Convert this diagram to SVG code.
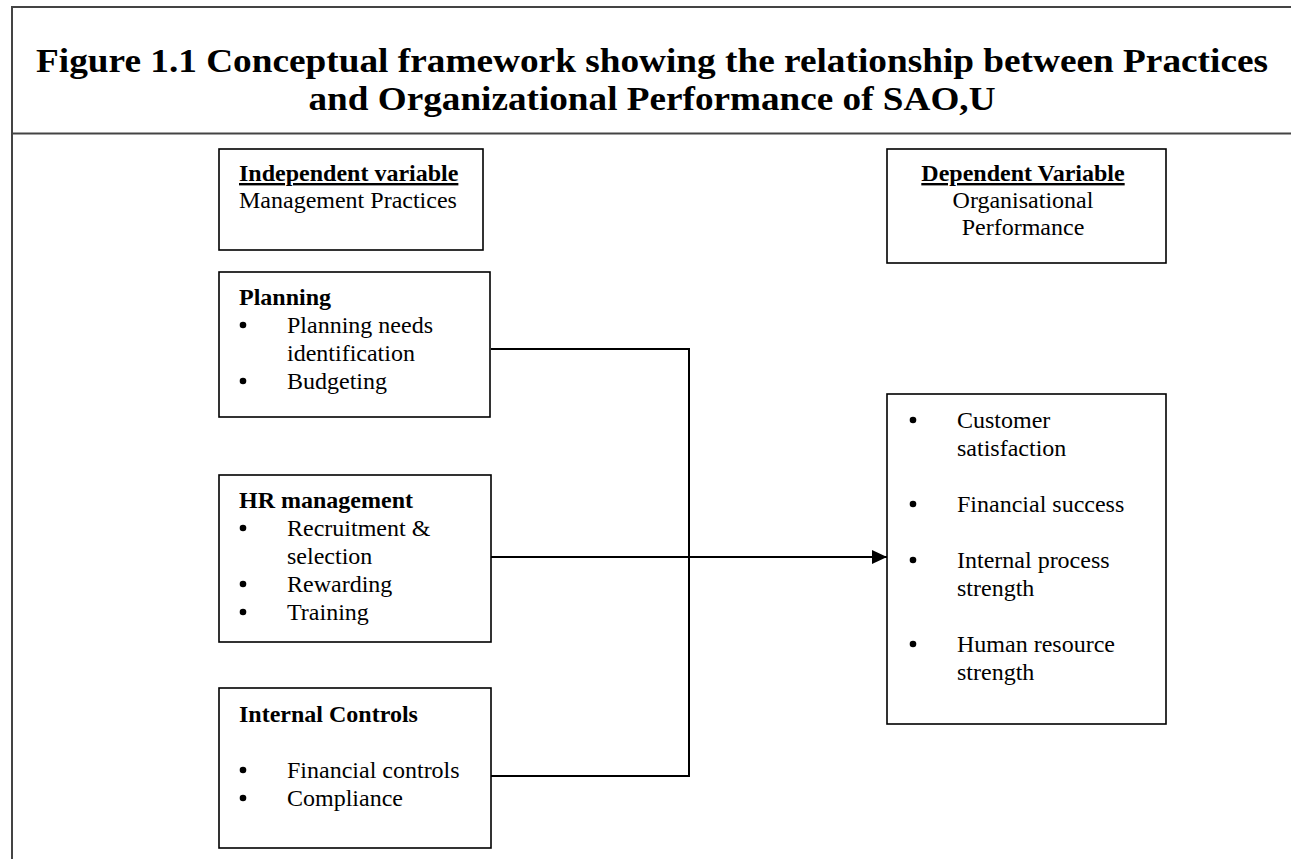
<svg xmlns="http://www.w3.org/2000/svg" width="1291" height="859" viewBox="0 0 1291 859">
<defs>
<style>
.t{font-family:"Liberation Serif","Times New Roman",serif;font-size:24px;fill:#000}
.b{font-weight:bold}
.u{text-decoration:underline}
.title{font-family:"Liberation Serif","Times New Roman",serif;font-size:34px;font-weight:bold;fill:#000}
.box{fill:#fff;stroke:#000;stroke-width:1.6}
.frame{fill:none;stroke:#444;stroke-width:2}
.conn{fill:none;stroke:#000;stroke-width:2}
.dot{fill:#000}
</style>
<marker id="arrow" markerWidth="15" markerHeight="14" refX="15" refY="7" orient="auto" markerUnits="userSpaceOnUse">
<path d="M0,0 L15,7 L0,14 Z" fill="#000"/>
</marker>
</defs>
<rect width="1291" height="859" fill="#fff"/>
<g id="frame">
<path class="frame" d="M1291,7 H12 V859"/>
<path class="frame" d="M12,133.5 H1291"/>
</g>
<g id="title">
<text class="title" x="652" y="72" text-anchor="middle" textLength="1232" lengthAdjust="spacingAndGlyphs">Figure 1.1 Conceptual framework showing the relationship between Practices</text>
<text class="title" x="652" y="110" text-anchor="middle" textLength="687" lengthAdjust="spacingAndGlyphs">and Organizational Performance of SAO,U</text>
</g>
<g id="connectors">
<path class="conn" d="M491,349 H689 V776 H491"/>
<path class="conn" d="M491,557 H887" marker-end="url(#arrow)"/>
</g>
<g id="independent">
<rect class="box" x="219" y="149" width="264" height="101"/>
<text class="t b u" x="239" y="181">Independent variable</text>
<text class="t" x="239" y="208">Management Practices</text>
</g>
<g id="planning">
<rect class="box" x="219" y="272" width="271" height="145"/>
<text class="t b" x="239" y="305">Planning</text>
<circle class="dot" cx="243" cy="325" r="3.3"/><text class="t" x="287" y="333">Planning needs</text>
<text class="t" x="287" y="361">identification</text>
<circle class="dot" cx="243" cy="381" r="3.3"/><text class="t" x="287" y="389">Budgeting</text>
</g>
<g id="hr">
<rect class="box" x="219" y="475" width="272" height="167"/>
<text class="t b" x="239" y="508">HR management</text>
<circle class="dot" cx="243" cy="528" r="3.3"/><text class="t" x="287" y="536">Recruitment &amp;</text>
<text class="t" x="287" y="564">selection</text>
<circle class="dot" cx="243" cy="584" r="3.3"/><text class="t" x="287" y="592">Rewarding</text>
<circle class="dot" cx="243" cy="612" r="3.3"/><text class="t" x="287" y="620">Training</text>
</g>
<g id="controls">
<rect class="box" x="219" y="688" width="272" height="160"/>
<text class="t b" x="239" y="722">Internal Controls</text>
<circle class="dot" cx="243" cy="770" r="3.3"/><text class="t" x="287" y="778">Financial controls</text>
<circle class="dot" cx="243" cy="798" r="3.3"/><text class="t" x="287" y="806">Compliance</text>
</g>
<g id="dependent">
<rect class="box" x="887" y="149" width="279" height="114"/>
<text class="t b u" x="1023" y="181" text-anchor="middle">Dependent Variable</text>
<text class="t" x="1023" y="208" text-anchor="middle">Organisational</text>
<text class="t" x="1023" y="235" text-anchor="middle">Performance</text>
</g>
<g id="performance">
<rect class="box" x="887" y="394" width="279" height="330"/>
<circle class="dot" cx="913" cy="420" r="3.3"/><text class="t" x="957" y="428">Customer</text>
<text class="t" x="957" y="456">satisfaction</text>
<circle class="dot" cx="913" cy="504" r="3.3"/><text class="t" x="957" y="512">Financial success</text>
<circle class="dot" cx="913" cy="560" r="3.3"/><text class="t" x="957" y="568">Internal process</text>
<text class="t" x="957" y="596">strength</text>
<circle class="dot" cx="913" cy="644" r="3.3"/><text class="t" x="957" y="652">Human resource</text>
<text class="t" x="957" y="680">strength</text>
</g>
</svg>
